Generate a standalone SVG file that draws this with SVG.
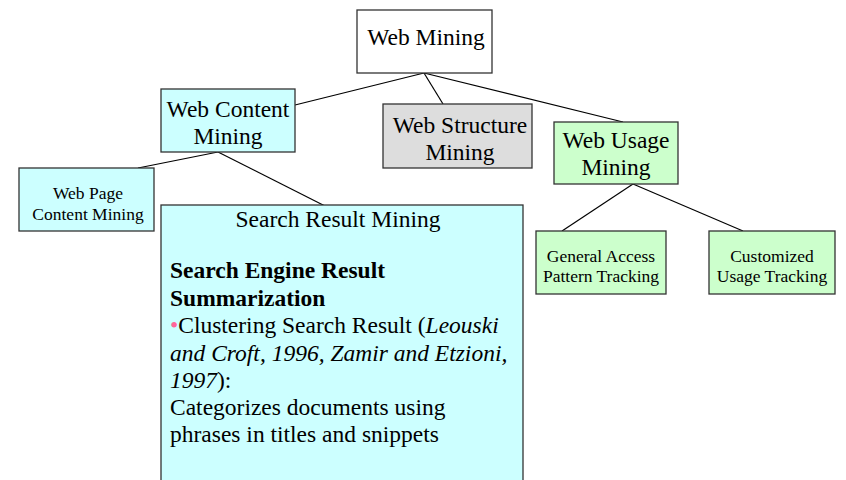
<svg xmlns="http://www.w3.org/2000/svg" width="846" height="480" viewBox="0 0 846 480">
<style>
.box{stroke:#333;stroke-width:1.3}
.w{fill:#ffffff}.c{fill:#ccffff}.g{fill:#dddddd}.n{fill:#ccffcc}
text{font-family:"Liberation Serif","Times New Roman",serif;fill:#000}
.big{font-size:23.5px;text-anchor:middle}
.sm{font-size:17.5px;text-anchor:middle}
.body{font-size:23.5px}
.b{font-weight:bold}
.i{font-style:italic}
.conn line{stroke:#000;stroke-width:1.2}
</style>
<rect width="846" height="480" fill="#fff"/>
<g class="conn">
<line x1="424" y1="73" x2="295" y2="105"/>
<line x1="424" y1="73" x2="443" y2="104"/>
<line x1="424" y1="73" x2="623" y2="122"/>
<line x1="218" y1="152" x2="138" y2="168"/>
<line x1="218" y1="152" x2="325" y2="206"/>
<line x1="633" y1="184" x2="562" y2="231"/>
<line x1="633" y1="184" x2="743" y2="231"/>
</g>
<g id="web-mining">
<rect class="box w" x="357" y="10" width="135" height="63"/>
<text class="big" x="426" y="45">Web Mining</text>
</g>
<g id="web-content-mining">
<rect class="box c" x="161" y="89" width="134" height="63"/>
<text class="big" x="228" y="117">Web Content</text>
<text class="big" x="228" y="144">Mining</text>
</g>
<g id="web-structure-mining">
<rect class="box g" x="383" y="104" width="149" height="64"/>
<text class="big" x="460" y="133">Web Structure</text>
<text class="big" x="460" y="160">Mining</text>
</g>
<g id="web-usage-mining">
<rect class="box n" x="554" y="122" width="124" height="62"/>
<text class="big" x="616" y="148">Web Usage</text>
<text class="big" x="616" y="175">Mining</text>
</g>
<g id="web-page-content-mining">
<rect class="box c" x="19" y="168" width="135" height="63"/>
<text class="sm" x="88" y="199">Web Page</text>
<text class="sm" x="88" y="220">Content Mining</text>
</g>
<g id="search-result-mining">
<rect class="box c" x="161" y="205" width="362" height="290"/>
<text class="big" x="338" y="227">Search Result Mining</text>
<text class="body b" x="170" y="278">Search Engine Result</text>
<text class="body b" x="170" y="306">Summarization</text>
<text class="body" x="170" y="333"><tspan fill="#ff6699">•</tspan>Clustering Search Result (<tspan class="i">Leouski</tspan></text>
<text class="body i" x="170" y="361">and Croft, 1996, Zamir and Etzioni,</text>
<text class="body" x="170" y="388"><tspan class="i">1997</tspan>):</text>
<text class="body" x="170" y="415">Categorizes documents using</text>
<text class="body" x="170" y="442">phrases in titles and snippets</text>
</g>
<g id="general-access-pattern-tracking">
<rect class="box n" x="536" y="231" width="130" height="63"/>
<text class="sm" x="601" y="262">General Access</text>
<text class="sm" x="601" y="282">Pattern Tracking</text>
</g>
<g id="customized-usage-tracking">
<rect class="box n" x="709" y="231" width="126" height="63"/>
<text class="sm" x="772" y="262">Customized</text>
<text class="sm" x="772" y="282">Usage Tracking</text>
</g>
</svg>
